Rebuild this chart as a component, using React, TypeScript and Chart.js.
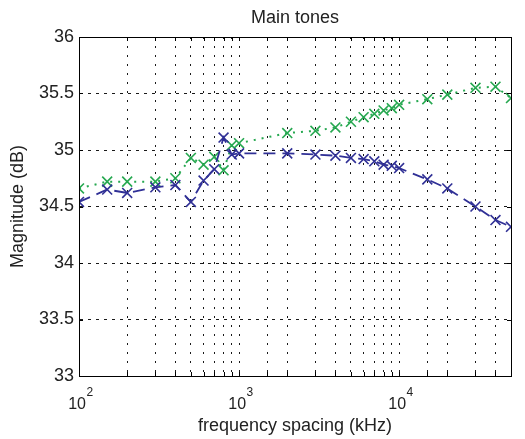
import React, { useEffect, useRef } from 'react';
import { Chart, registerables } from 'chart.js';

Chart.register(...registerables);

// ---- data ----
const frequencies = [100, 150, 200, 300, 400, 500, 600, 700, 800, 900, 1000, 2000, 3000, 4000, 5000, 6000, 7000, 8000, 9000, 10000, 15000, 20000, 30000, 40000, 50000];
const blueMagnitude = [34.54, 34.65, 34.62, 34.67, 34.69, 34.54, 34.73, 34.83, 35.11, 34.96, 34.97, 34.97, 34.96, 34.95, 34.93, 34.92, 34.9, 34.87, 34.86, 34.84, 34.74, 34.66, 34.5, 34.38, 34.32];
const greenMagnitude = [34.66, 34.72, 34.72, 34.72, 34.75, 34.93, 34.87, 34.94, 34.82, 35.04, 35.06, 35.15, 35.17, 35.2, 35.25, 35.29, 35.32, 35.35, 35.37, 35.4, 35.45, 35.49, 35.55, 35.56, 35.46];
const xMajorTicks = [100, 1000, 10000];
const xMin = 100;
const xMax = 50000;
const yMin = 33;
const yMax = 36;
const yStep = 0.5;
const titleText = 'Main tones';
const xLabel = 'frequency spacing (kHz)';
const yLabel = 'Magnitude (dB)';

const FONT = '"Liberation Sans", Arial, Helvetica, sans-serif';
const BLUE = 'rgb(48,48,150)';
const GREEN = 'rgb(38,168,80)';
const TEXT = '#222';

export default function App() {
  const ref = useRef<HTMLCanvasElement>(null);

  useEffect(() => {
    const canvas = ref.current;
    if (!canvas) return;

    const boxPlugin = {
      id: 'matlabBox',
      afterDatasetsDraw(chart: any) {
        const { ctx, chartArea, scales } = chart;
        const { left, right, top, bottom } = chartArea;
        ctx.save();
        ctx.setLineDash([]);
        ctx.strokeStyle = '#000';
        ctx.lineWidth = 1;
        ctx.beginPath();
        scales.x.ticks.forEach((t: any) => {
          const px = Math.round(scales.x.getPixelForValue(t.value)) + 0.5;
          ctx.moveTo(px, bottom);
          ctx.lineTo(px, bottom - 4);
          ctx.moveTo(px, top);
          ctx.lineTo(px, top + 4);
        });
        scales.y.ticks.forEach((t: any) => {
          const py = Math.round(scales.y.getPixelForValue(t.value)) + 0.5;
          ctx.moveTo(left, py);
          ctx.lineTo(left + 4, py);
          ctx.moveTo(right, py);
          ctx.lineTo(right - 4, py);
        });
        ctx.stroke();
        ctx.strokeRect(Math.round(left) + 0.5, Math.round(top) + 0.5, Math.round(right - left), Math.round(bottom - top));
        ctx.restore();
      },
      afterDraw(chart: any) {
        const { ctx, chartArea, scales } = chart;
        ctx.save();
        ctx.fillStyle = TEXT;
        ctx.font = `18px ${FONT}`;
        ctx.textAlign = 'center';
        ctx.textBaseline = 'alphabetic';
        ctx.fillText(titleText, (chartArea.left + chartArea.right) / 2, 23);
        // x tick labels as 10^n with a raised exponent
        xMajorTicks.forEach((v) => {
          const px = scales.x.getPixelForValue(v);
          const exp = String(Math.round(Math.log10(v)));
          ctx.font = `16px ${FONT}`;
          ctx.textAlign = 'right';
          ctx.fillText('10', px + 7, chartArea.bottom + 33);
          ctx.font = `12px ${FONT}`;
          ctx.textAlign = 'left';
          ctx.fillText(exp, px + 7.5, chartArea.bottom + 20);
        });
        ctx.restore();
      },
    };

    const chart = new Chart(canvas, {
      type: 'line',
      data: {
        datasets: [
          {
            label: 'blue',
            data: frequencies.map((f, i) => ({ x: f, y: blueMagnitude[i] })),
            borderColor: BLUE,
            backgroundColor: BLUE,
            borderWidth: 1.8,
            borderDash: [12, 7],
            pointStyle: 'crossRot',
            pointRadius: 7,
            pointBorderWidth: 1.6,
            pointBorderColor: BLUE,
            tension: 0,
            fill: false,
          },
          {
            label: 'green',
            data: frequencies.map((f, i) => ({ x: f, y: greenMagnitude[i] })),
            borderColor: GREEN,
            backgroundColor: GREEN,
            borderWidth: 2,
            borderDash: [2, 6],
            pointStyle: 'crossRot',
            pointRadius: 7,
            pointBorderWidth: 1.6,
            pointBorderColor: GREEN,
            tension: 0,
            fill: false,
          },
        ],
      },
      options: {
        animation: false,
        responsive: false,
        maintainAspectRatio: false,
        devicePixelRatio: 1,
        layout: { padding: { top: 37, right: 3, left: 0, bottom: 0 } },
        plugins: {
          legend: { display: false },
          title: { display: false },
          tooltip: { enabled: false },
        },
        scales: {
          x: {
            type: 'logarithmic',
            min: xMin,
            max: xMax,
            afterFit: (s: any) => {
              s.height = 63;
            },
            grid: { color: 'rgba(0,0,0,0.9)', lineWidth: 1, drawTicks: false },
            border: { display: true, color: '#000', width: 1, dash: [2, 7] },
            ticks: {
              autoSkip: false,
              maxRotation: 0,
              minRotation: 0,
              padding: 14,
              color: TEXT,
              font: { family: FONT, size: 16 },
              callback: () => '',
            },
            title: {
              display: true,
              text: xLabel,
              color: TEXT,
              font: { family: FONT, size: 18 },
              padding: { top: 0, bottom: 2 },
            },
          },
          y: {
            min: yMin,
            max: yMax,
            afterFit: (s: any) => {
              s.width = 79;
            },
            grid: { color: 'rgba(0,0,0,0.9)', lineWidth: 1, drawTicks: false },
            border: { display: true, color: '#000', width: 1, dash: [3, 5] },
            ticks: {
              stepSize: yStep,
              padding: 5,
              color: TEXT,
              font: { family: FONT, size: 18 },
              callback: (value: any) => String(Number(value)),
            },
            title: {
              display: true,
              text: yLabel,
              color: TEXT,
              font: { family: FONT, size: 18 },
              padding: { top: 7, bottom: 0 },
            },
          },
        },
      },
      plugins: [boxPlugin],
    } as any);

    return () => chart.destroy();
  }, []);

  return (
    <div style={{ position: 'fixed', left: 0, top: 0, width: 525, height: 439, background: '#fff' }}>
      <canvas ref={ref} width={525} height={439} style={{ width: 525, height: 439, display: 'block' }} />
    </div>
  );
}
